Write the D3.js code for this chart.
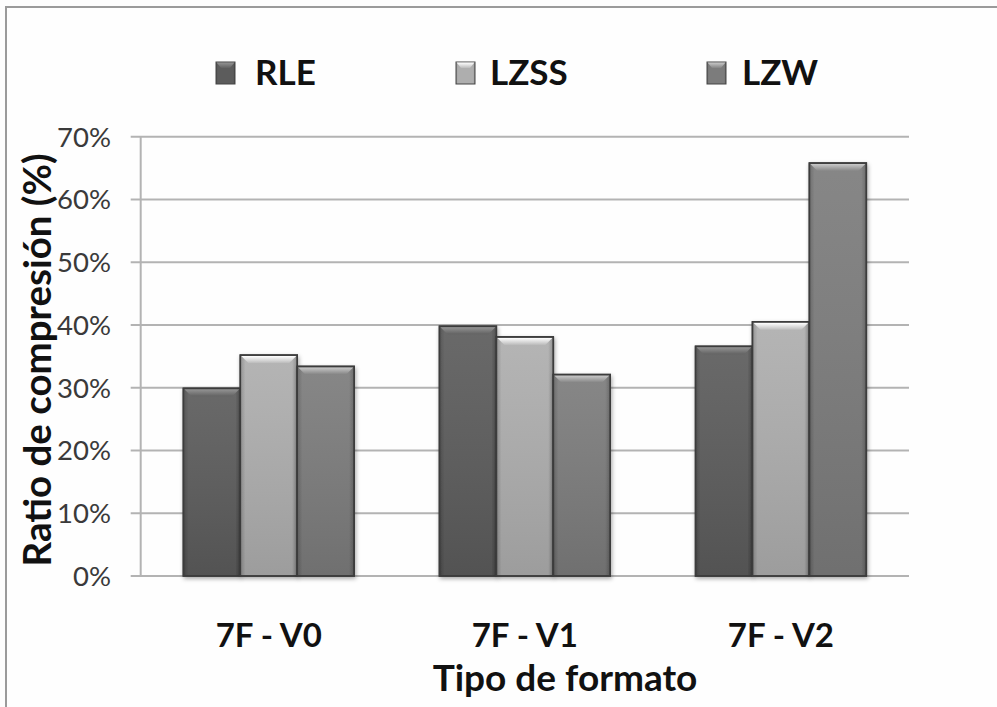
<!DOCTYPE html>
<html>
<head>
<meta charset="utf-8">
<script src="https://cdn.jsdelivr.net/npm/d3@7/dist/d3.min.js"></script>
<style>
  html, body { margin: 0; padding: 0; background: #fdfdfd; }
  svg { display: block; }
</style>
</head>
<body>
<div id="chart"></div>
<script>
// ---- data ----
const categories = ["7F - V0", "7F - V1", "7F - V2"];
const seriesNames = ["RLE", "LZSS", "LZW"];
const rleValues  = [0.299, 0.398, 0.366];
const lzssValues = [0.352, 0.381, 0.405];
const lzwValues  = [0.334, 0.321, 0.658];
const yTicks = [0, 0.1, 0.2, 0.3, 0.4, 0.5, 0.6, 0.7];
const yTitle = "Ratio de compresión (%)";
const xTitle = "Tipo de formato";

const seriesValues = [rleValues, lzssValues, lzwValues];
const baseColors = ["#5a5a5a", "#ababab", "#7a7a7a"];

const W = 997, H = 707;
const svg = d3.select("#chart").append("svg").attr("width", W).attr("height", H);
const defs = svg.append("defs");

// background + frame
svg.append("rect").attr("x", 0).attr("y", 0).attr("width", W).attr("height", H).attr("fill", "#fdfdfd");
svg.append("rect").attr("x", 6).attr("y", 7).attr("width", W + 20).attr("height", H + 20)
  .attr("fill", "#fefefe").attr("stroke", "#9a9a9a").attr("stroke-width", 2);

// scales
const plotLeft = 140.7, plotRight = 909, plotBottom = 576, plotTop = 136.7;
const y = d3.scaleLinear().domain([0, 0.7]).range([plotBottom, plotTop]);
const x0 = d3.scaleBand().domain(categories).range([plotLeft, plotRight])
  .paddingInner(0.333).paddingOuter(0.1667);
const x1 = d3.scaleBand().domain(seriesNames).range([0, x0.bandwidth()]);

// gradients & filter
seriesNames.forEach((s, i) => {
  const c = d3.color(baseColors[i]);
  const g = defs.append("linearGradient").attr("id", "g" + i)
    .attr("x1", "0").attr("y1", "0").attr("x2", "1").attr("y2", "0");
  g.append("stop").attr("offset", "0%").attr("stop-color", c.darker(0.6));
  g.append("stop").attr("offset", "9%").attr("stop-color", c.brighter(0.05));
  g.append("stop").attr("offset", "91%").attr("stop-color", c.brighter(0.05));
  g.append("stop").attr("offset", "100%").attr("stop-color", c.darker(0.7));
  const gv = defs.append("linearGradient").attr("id", "gv" + i)
    .attr("x1", "0").attr("y1", "0").attr("x2", "0").attr("y2", "1");
  gv.append("stop").attr("offset", "0%").attr("stop-color", "#fff").attr("stop-opacity", 0.08);
  gv.append("stop").attr("offset", "100%").attr("stop-color", "#000").attr("stop-opacity", 0.1);
  const gt = defs.append("linearGradient").attr("id", "gt" + i)
    .attr("x1", "0").attr("y1", "0").attr("x2", "0").attr("y2", "1");
  gt.append("stop").attr("offset", "0%").attr("stop-color", c.brighter(1.4));
  gt.append("stop").attr("offset", "100%").attr("stop-color", c.brighter(0.25));
});
const f = defs.append("filter").attr("id", "shadow").attr("x", "-20%").attr("y", "-5%").attr("width", "140%").attr("height", "115%");
f.append("feDropShadow").attr("dx", 1).attr("dy", 2).attr("stdDeviation", 2).attr("flood-color", "#000").attr("flood-opacity", 0.35);

// gridlines
svg.append("g").selectAll("line").data(yTicks).join("line")
  .attr("x1", plotLeft - 10).attr("x2", plotRight)
  .attr("y1", d => y(d)).attr("y2", d => y(d))
  .attr("stroke", "#b3b3b3").attr("stroke-width", 2);
// y axis line
svg.append("line").attr("x1", plotLeft).attr("x2", plotLeft).attr("y1", plotTop).attr("y2", plotBottom)
  .attr("stroke", "#b3b3b3").attr("stroke-width", 2);

// y tick labels
svg.append("g").selectAll("text").data(yTicks).join("text")
  .attr("x", 111).attr("y", d => y(d)).attr("dy", "0.36em")
  .attr("text-anchor", "end")
  .attr("font-family", "Lato, 'Open Sans', sans-serif").attr("font-size", 27.5)
  .attr("fill", "#3a3a3a")
  .text(d => d3.format(".0%")(d));

// bars
const groups = svg.append("g").selectAll("g").data(categories).join("g")
  .attr("transform", d => `translate(${x0(d)},0)`);
groups.each(function(cat, ci) {
  const g = d3.select(this);
  seriesNames.forEach((s, si) => {
    const v = seriesValues[si][ci];
    const bx = x1(s), bw = x1.bandwidth();
    const top = y(v), h = y(0) - y(v);
    const bar = g.append("g");
    bar.append("rect").attr("x", bx).attr("y", top).attr("width", bw).attr("height", h)
      .attr("fill", `url(#g${si})`).attr("stroke", "#3c3c3c").attr("stroke-width", 1.5)
      .attr("filter", "url(#shadow)");
    bar.append("rect").attr("x", bx).attr("y", top).attr("width", bw).attr("height", h)
      .attr("fill", `url(#gv${si})`);
    const bev = 8;
    bar.append("path")
      .attr("d", `M${bx + 1},${top + 1} L${bx + bw - 1},${top + 1} L${bx + bw - bev},${top + bev} L${bx + bev},${top + bev} Z`)
      .attr("fill", `url(#gt${si})`);
    bar.append("rect").attr("x", bx).attr("y", top).attr("width", bw).attr("height", h)
      .attr("fill", "none").attr("stroke", "#3c3c3c").attr("stroke-width", 1.5);
  });
});

// x tick labels
svg.append("g").selectAll("text").data(categories).join("text")
  .attr("x", d => x0(d) + x0.bandwidth() / 2).attr("y", 647)
  .attr("text-anchor", "middle")
  .attr("font-family", "Lato, 'Open Sans', sans-serif").attr("font-weight", "bold").attr("font-size", 33)
  .attr("fill", "#111")
  .text(d => d);

// axis titles
svg.append("text").attr("x", 565).attr("y", 691)
  .attr("text-anchor", "middle")
  .attr("font-family", "Lato, 'Open Sans', sans-serif").attr("font-weight", "bold").attr("font-size", 37)
  .attr("fill", "#111").text(xTitle);
svg.append("text").attr("transform", "translate(51,360) rotate(-90)")
  .attr("text-anchor", "middle")
  .attr("font-family", "Lato, 'Open Sans', sans-serif").attr("font-weight", "bold").attr("font-size", 38.5)
  .attr("fill", "#111").text(yTitle);

// legend
const legendX = [216, 456, 707];
const legendTextX = [255, 490, 742];
const leg = svg.append("g");
seriesNames.forEach((s, i) => {
  leg.append("rect").attr("x", legendX[i]).attr("y", 62).attr("width", 19).attr("height", 22)
    .attr("fill", `url(#g${i})`).attr("stroke", "#444").attr("stroke-width", 1);
  leg.append("path")
    .attr("d", `M${legendX[i] + 0.5},${62.5} L${legendX[i] + 18.5},${62.5} L${legendX[i] + 14},${68} L${legendX[i] + 5},${68} Z`)
    .attr("fill", `url(#gt${i})`);
  leg.append("text").attr("x", legendTextX[i]).attr("y", 85)
    .attr("font-family", "Lato, 'Open Sans', sans-serif").attr("font-weight", "bold").attr("font-size", 35)
    .attr("fill", "#111").text(s);
});
</script>
</body>
</html>
